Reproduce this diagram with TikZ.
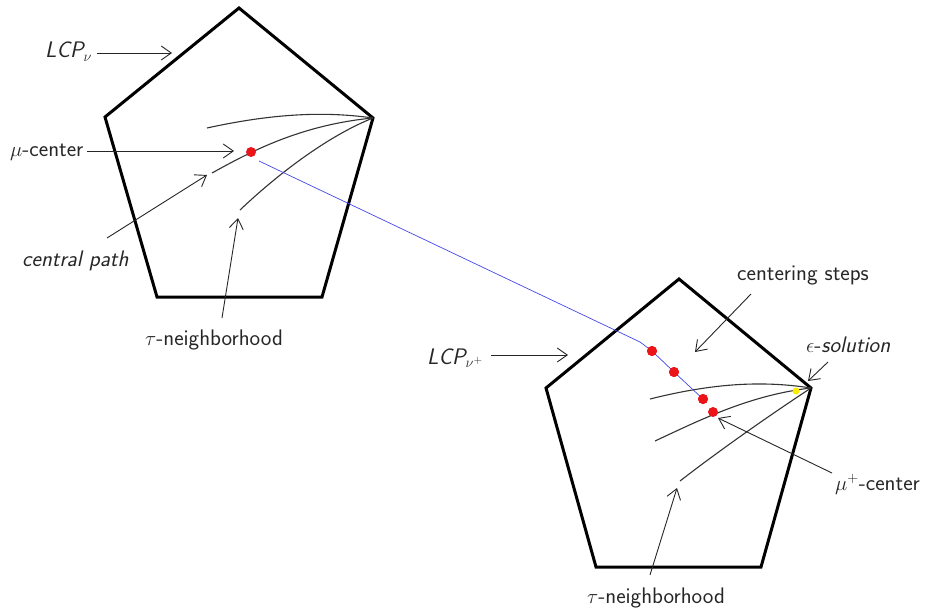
\documentclass[tikz,border=0pt]{standalone}
\usetikzlibrary{arrows.meta}
\definecolor{dotred}{RGB}{235,20,25}
\definecolor{pathblue}{RGB}{70,70,235}
\definecolor{dotyellow}{RGB}{255,235,0}
\begin{document}
\begin{tikzpicture}[x=1pt,y=-1pt,
  poly/.style={line width=3pt, line join=miter},
  lbl/.style={font=\fontsize{22.5}{26}\selectfont\sffamily, inner sep=0pt, anchor=base west, text=black!85},
  ptr/.style={-{Straight Barb[length=10pt,width=14pt]}, line width=0.9pt, draw=black!85},
  crv/.style={line width=1.1pt, draw=black!80},
  rdot/.style={circle, fill=dotred, inner sep=0pt, minimum size=10pt},
  ydot/.style={circle, fill=dotyellow, inner sep=0pt, minimum size=7pt},
]
\useasboundingbox (0,0) rectangle (929,615);

% ---------- first polytope ----------
\draw[poly] (239,8) -- (373,118) -- (322,297) -- (157,297) -- (105,117) -- cycle;
\coordinate (A) at (373,118);
\draw[crv] (207,128) .. controls (280,112) and (330,112) .. (A);
\draw[crv] (212,173) .. controls (250,152) and (300,125) .. (A);
\draw[crv] (240,210) .. controls (280,172) and (330,135) .. (A);

% ---------- second polytope ----------
\draw[poly] (679,279) -- (811,388) -- (761,567) -- (596,567) -- (546,388) -- cycle;
\coordinate (B) at (811,388);
\draw[crv] (650,399) .. controls (710,384) and (760,380) .. (B);
\draw[crv] (655,441) .. controls (700,420) and (750,395) .. (B);
\draw[crv] (680,481) .. controls (720,450) and (770,415) .. (B);

% ---------- blue path and dots ----------
\coordinate (b0) at (259,161);
\coordinate (b1) at (640,342);
\node[rdot] (mu1) at (251,152) {};
\node[rdot] (s1) at (652,351) {};
\node[rdot] (s2) at (674,372) {};
\node[rdot] (s3) at (703,399) {};
\node[rdot] (s4) at (713,412) {};
\node[ydot] (eps) at (796,391) {};
\draw[pathblue, line width=0.7pt] (b0) -- (b1) -- (s1.center) -- (s2.center) -- (s3.center);
\node[rdot] at (s1) {};
\node[rdot] at (s2) {};
\node[rdot] at (s3) {};

% ---------- labels, first polytope ----------
\node[lbl] (lcp1) at (45,58) {\itshape LCP$_\nu$};
\coordinate (lcp1a) at (97,53);  \coordinate (lcp1b) at (172,53);
\draw[ptr] (lcp1a) -- (lcp1b);

\node[lbl] (muc) at (10,157) {$\mu$-center};
\coordinate (muca) at (87,151);  \coordinate (mucb) at (234,151);
\draw[ptr] (muca) -- (mucb);

\node[lbl] (cp) at (22,266) {\itshape central path};
\coordinate (cpa) at (107,238);  \coordinate (cpb) at (207,175);
\draw[ptr] (cpa) -- (cpb);

\node[lbl] (tau1) at (145,345) {$\tau$-neighborhood};
\coordinate (tau1a) at (222,318);  \coordinate (tau1b) at (238,218);
\draw[ptr] (tau1a) -- (tau1b);

% ---------- labels, second polytope ----------
\node[lbl] (cs) at (737,280) {centering steps};
\coordinate (csa) at (751,294);  \coordinate (csb) at (695,352);
\draw[ptr] (csa) -- (csb);

\node[lbl] (lcp2) at (427,364) {\itshape LCP$_{\nu^+}$};
\coordinate (lcp2a) at (491,355);  \coordinate (lcp2b) at (568,355);
\draw[ptr] (lcp2a) -- (lcp2b);

\node[lbl] (epss) at (806,352) {$\epsilon$-{\itshape solution}};
\coordinate (epsa) at (828,362);  \coordinate (epsb) at (808,381);
\draw[ptr] (epsa) -- (epsb);

\node[lbl] (mup) at (835,490) {$\mu^+$-center};
\coordinate (mupa) at (832,473);  \coordinate (mupb) at (718,418);
\draw[ptr] (mupa) -- (mupb);

\node[lbl] (tau2) at (587,603) {$\tau$-neighborhood};
\coordinate (tau2a) at (650,575);  \coordinate (tau2b) at (677,488);
\draw[ptr] (tau2a) -- (tau2b);
\end{tikzpicture}
\end{document}
